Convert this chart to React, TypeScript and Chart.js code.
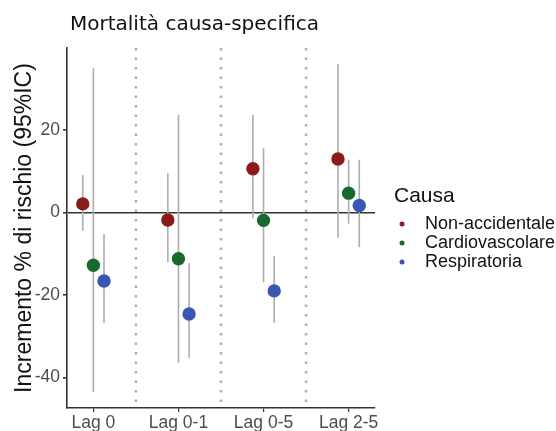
import React, { useEffect, useRef } from "react";
import { Chart, registerables } from "chart.js";

Chart.register(...registerables);

const titleText = "Mortalità causa-specifica";
const yTitle = "Incremento % di rischio (95%IC)";
const legendTitle = "Causa";
const categories = ["Lag 0", "Lag 0-1", "Lag 0-5", "Lag 2-5"];
const seriesNames = ["Non-accidentale", "Cardiovascolare", "Respiratoria"];
const seriesColors = ["#8B1A1A", "#19692F", "#3A55B4"];

const nonAcc = [2.1, -1.8, 10.6, 13.0];
const nonAccLo = [-4.4, -12.0, -1.4, -6.1];
const nonAccHi = [9.1, 9.5, 23.7, 36.0];

const cardio = [-12.8, -11.2, -1.9, 4.7];
const cardioLo = [-43.5, -36.4, -16.9, -2.7];
const cardioHi = [35.0, 23.7, 15.6, 12.8];

const resp = [-16.6, -24.6, -19.0, 1.7];
const respLo = [-26.8, -35.2, -26.7, -8.4];
const respHi = [-5.2, -12.3, -10.6, 12.8];

const yTicks = [-40, -20, 0, 20];
const separators = [1.5, 2.5, 3.5];
const dodge = [-0.125, 0, 0.125];

const values = [nonAcc, cardio, resp];
const lows = [nonAccLo, cardioLo, respLo];
const highs = [nonAccHi, cardioHi, respHi];

export default function App() {
  const ref = useRef<HTMLCanvasElement>(null);
  useEffect(() => {
    document.body.style.margin = "0";
    const canvas = ref.current!;
    const datasets = seriesNames.map((name, s) => ({
      label: name,
      data: categories.map((_, i) => ({ x: i + 1 + dodge[s], y: values[s][i] })),
      backgroundColor: seriesColors[s],
      borderColor: seriesColors[s],
      pointRadius: 6.7,
      pointBorderWidth: 0,
      showLine: false,
    }));

    const customPlugin = {
      id: "custom",
      beforeDatasetsDraw(chart: any) {
        const { ctx, chartArea, scales } = chart;
        const xs = scales.x;
        const ys = scales.y;
        ctx.save();
        ctx.strokeStyle = "#AFAFAF";
        ctx.lineWidth = 2.5;
        ctx.setLineDash([2.5, 7]);
        separators.forEach((v) => {
          const px = xs.getPixelForValue(v);
          ctx.beginPath();
          ctx.moveTo(px, chartArea.top);
          ctx.lineTo(px, chartArea.bottom);
          ctx.stroke();
        });
        ctx.setLineDash([]);
        ctx.strokeStyle = "#ADADAD";
        ctx.lineWidth = 1.6;
        seriesNames.forEach((_, s) => {
          categories.forEach((_, i) => {
            const px = xs.getPixelForValue(i + 1 + dodge[s]);
            ctx.beginPath();
            ctx.moveTo(px, ys.getPixelForValue(highs[s][i]));
            ctx.lineTo(px, ys.getPixelForValue(lows[s][i]));
            ctx.stroke();
          });
        });
        ctx.restore();
      },
      afterDraw(chart: any) {
        const { ctx } = chart;
        ctx.save();
        ctx.fillStyle = "#111";
        ctx.textBaseline = "middle";
        ctx.textAlign = "left";
        ctx.font = '20px "DejaVu Sans"';
        ctx.fillText(titleText, 70, 25);
        ctx.font = '21px "Liberation Sans"';
        ctx.fillText(legendTitle, 394, 196);
        ctx.font = '18px "Liberation Sans"';
        seriesNames.forEach((name, s) => {
          const y = 224 + s * 19;
          ctx.fillStyle = seriesColors[s];
          ctx.beginPath();
          ctx.arc(402, y, 2.5, 0, Math.PI * 2);
          ctx.fill();
          ctx.fillStyle = "#111";
          ctx.fillText(name, 425, y);
        });
        ctx.restore();
      },
    };

    const chart = new Chart(canvas, {
      type: "scatter",
      data: { datasets },
      options: {
        animation: false,
        responsive: false,
        devicePixelRatio: 1,
        layout: { padding: { top: 48, right: 181, left: 0, bottom: 0 } },
        plugins: { legend: { display: false }, tooltip: { enabled: false }, title: { display: false } },
        scales: {
          x: {
            type: "linear",
            min: 0.69,
            max: 4.31,
            afterFit: (s: any) => { s.height = 23; },
            afterBuildTicks: (s: any) => { s.ticks = categories.map((_, i) => ({ value: i + 1 })); },
            ticks: {
              callback: (v: any) => categories[Math.round(v) - 1] ?? "",
              font: { family: "Liberation Sans", size: 17.5 },
              color: "#4D4D4D",
              padding: 1,
              maxRotation: 0,
              autoSkip: false,
            },
            grid: { drawOnChartArea: false, drawTicks: true, tickLength: 4, tickColor: "#333", lineWidth: 1.2 },
            border: { color: "#333", width: 1.6 },
          },
          y: {
            min: -47.4,
            max: 39.9,
            afterFit: (s: any) => { s.width = 67; },
            afterBuildTicks: (s: any) => { s.ticks = yTicks.map((v) => ({ value: v })); },
            ticks: {
              font: { family: "Liberation Sans", size: 17.5 },
              color: "#4D4D4D",
              padding: 3,
            },
            grid: {
              color: (c: any) => (c.tick && c.tick.value === 0 ? "#333" : "rgba(0,0,0,0)"),
              lineWidth: 1.6,
              tickLength: 4,
              tickColor: "#333",
            },
            border: { color: "#333", width: 1.6 },
            title: {
              display: true,
              text: yTitle,
              font: { family: "Liberation Sans", size: 23 },
              color: "#111",
              padding: { top: 11, bottom: 0 },
            },
          },
        },
      },
      plugins: [customPlugin],
    });
    return () => chart.destroy();
  }, []);
  return <canvas ref={ref} width={556} height={431} style={{ display: "block" }} />;
}
